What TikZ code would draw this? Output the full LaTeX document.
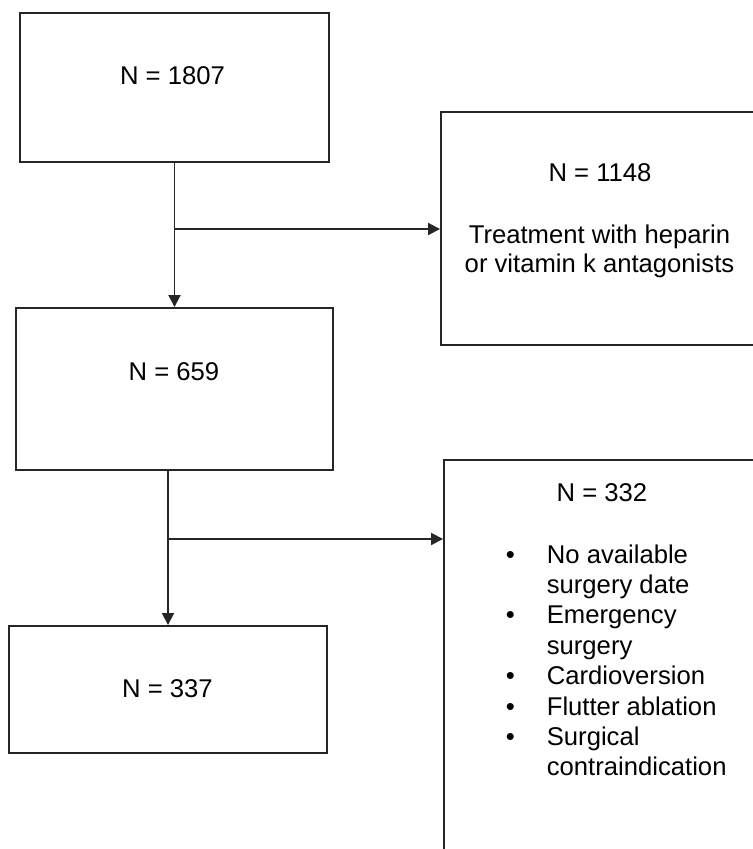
\documentclass[tikz,border=0pt]{standalone}
\usepackage{fontspec}
\setmainfont{Liberation Sans}
\usetikzlibrary{arrows.meta}

\begin{document}
\begin{tikzpicture}[
  box/.style={draw=black!85,line width=1.1pt,inner sep=0pt},
  txt/.style={inner sep=0pt,font=\fontsize{14.6}{16.5}\selectfont},
  arr/.style={draw=black!85,line width=1.1pt,-{Triangle[length=0.24cm,width=0.24cm]}}
]
\useasboundingbox (0,0) rectangle (15.04,-16.98);

\node[box,minimum width=6.18cm,minimum height=2.98cm] (b1) at (3.49,-1.75) {};
\node[txt] (t1) at (3.45,-1.52) {N = 1807};

\node[box,minimum width=6.34cm,minimum height=3.24cm] (b2) at (3.49,-7.78) {};
\node[txt] (t2) at (3.48,-7.44) {N = 659};

\node[box,minimum width=6.36cm,minimum height=2.54cm] (b3) at (3.36,-13.79) {};
\node[txt] (t3) at (3.35,-13.77) {N = 337};

\node[box,minimum width=6.34cm,minimum height=4.66cm] (r1) at (11.99,-4.57) {};
\node[txt] (t4) at (12.0,-3.46) {N = 1148};
\node[txt,align=center] (t5) at (11.99,-5.03) {Treatment with heparin\\or vitamin k antagonists};

\node[box,minimum width=6.28cm,minimum height=8cm] (r2) at (12.02,-13.2) {};
\node[txt] (t6) at (12.04,-9.85) {N = 332};
\node[txt,anchor=base west,font=\fontsize{14.6}{17.3}\selectfont] (t7) at (10.11,-11.26) {%
\begin{tabular}[t]{@{}l@{\hspace{0.64cm}}l@{}}
\textbullet & No available\\
 & surgery date\\
\textbullet & Emergency\\
 & surgery\\
\textbullet & Cardioversion\\
\textbullet & Flutter ablation\\
\textbullet & Surgical\\
 & contraindication
\end{tabular}};

\coordinate (j1) at (3.49,-4.58);
\coordinate (j2) at (3.36,-10.78);

\draw[arr] (b1.south) -- (b2.north);
\draw[arr] (j1) -- (j1 -| r1.west);
%\draw[arr] (b2.south) -- (b3.north);
\draw[arr] (b3.north |- b2.south) -- (b3.north);
\draw[arr] (j2) -- (j2 -| r2.west);

\end{tikzpicture}
\end{document}
